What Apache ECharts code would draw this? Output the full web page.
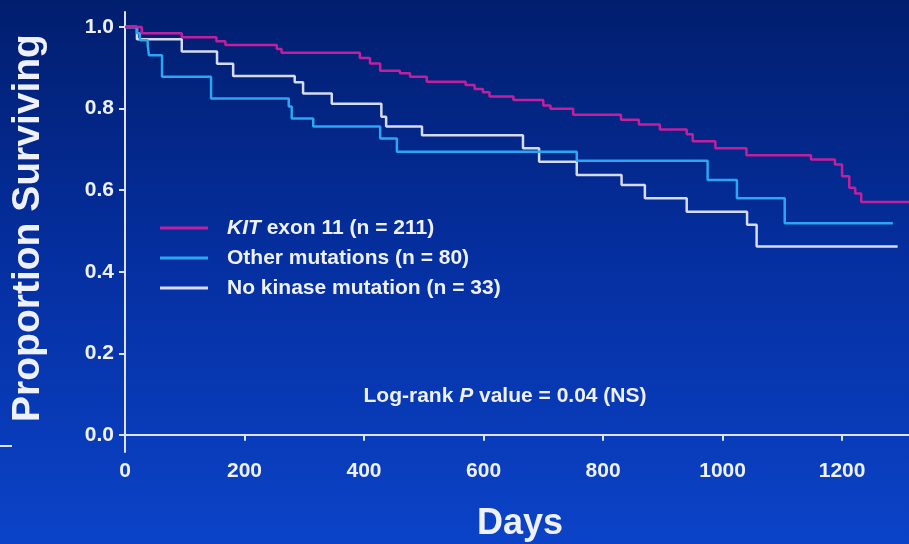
<!DOCTYPE html>
<html>
<head>
<meta charset="utf-8">
<script src="https://cdn.jsdelivr.net/npm/echarts@6/dist/echarts.min.js"></script>
<style>
  html, body { margin: 0; padding: 0; }
  #chart { width: 909px; height: 544px; }
</style>
</head>
<body>
<div id="chart"></div>
<script>
// ---- Data ----
const seriesNames = ['KIT exon 11 (n = 211)', 'Other mutations (n = 80)', 'No kinase mutation (n = 33)'];

const kitDays = [0, 28, 95, 153, 168, 254, 262, 393, 410, 427, 460, 477, 505, 570, 585, 599, 610, 650, 700, 712, 750, 830, 860, 895, 940, 950, 988, 1040, 1148, 1188, 1200, 1212, 1222, 1232, 1312];
const kitSurv = [1.0, 0.985, 0.975, 0.965, 0.956, 0.946, 0.937, 0.924, 0.911, 0.893, 0.887, 0.878, 0.866, 0.858, 0.848, 0.840, 0.830, 0.821, 0.808, 0.800, 0.785, 0.773, 0.761, 0.749, 0.737, 0.720, 0.703, 0.686, 0.675, 0.663, 0.634, 0.606, 0.592, 0.571, 0.571];

const otherDays = [0, 20, 25, 38, 40, 62, 144, 274, 279, 315, 427, 455, 756, 975, 1024, 1104, 1285];
const otherSurv = [1.0, 0.985, 0.968, 0.956, 0.931, 0.878, 0.825, 0.805, 0.776, 0.756, 0.727, 0.694, 0.672, 0.625, 0.580, 0.519, 0.519];

const noneDays = [0, 20, 95, 154, 181, 284, 298, 346, 429, 437, 497, 666, 693, 756, 831, 870, 940, 1041, 1057, 1293];
const noneSurv = [1.0, 0.97, 0.94, 0.91, 0.88, 0.865, 0.837, 0.812, 0.78, 0.756, 0.735, 0.703, 0.670, 0.637, 0.613, 0.580, 0.547, 0.515, 0.462, 0.462];

const xTicks = [0, 200, 400, 600, 800, 1000, 1200];
const yTicks = [0, 0.2, 0.4, 0.6, 0.8, 1.0];

// ---- Chart ----
const zip = (a, b) => a.map((d, i) => [d, b[i]]);
const chart = echarts.init(document.getElementById('chart'), null, { renderer: 'canvas' });

const axisColor = '#dde3f6';
const textColor = '#eef1fb';
const fontFam = '"Liberation Sans", Arial, Helvetica, sans-serif';
const fs = 21;

chart.setOption({
  animation: false,
  backgroundColor: new echarts.graphic.LinearGradient(0, 0, 0, 1, [
    { offset: 0, color: '#011e6e' },
    { offset: 0.5, color: '#0530a2' },
    { offset: 1, color: '#0b43c8' }
  ]),
  grid: { left: 125, right: 0, top: 12, bottom: 92, containLabel: false },
  xAxis: {
    type: 'value', min: 0, max: 1312,
    axisLine: { lineStyle: { color: axisColor, width: 2 } },
    axisTick: { show: true, length: 6, lineStyle: { color: axisColor, width: 2 }, customValues: xTicks },
    axisLabel: { color: textColor, fontSize: fs, fontWeight: 'bold', fontFamily: fontFam, margin: 9,
                 customValues: xTicks, formatter: v => String(v) },
    splitLine: { show: false }
  },
  yAxis: {
    type: 'value', min: -0.042, max: 1.037,
    axisLine: { show: true, lineStyle: { color: axisColor, width: 2 } },
    axisTick: { show: true, length: 6, lineStyle: { color: axisColor, width: 2 }, customValues: yTicks },
    axisLabel: { color: textColor, fontSize: fs, fontWeight: 'bold', fontFamily: fontFam, margin: 11,
                 customValues: yTicks, formatter: v => v.toFixed(1) },
    splitLine: { show: false }
  },
  legend: {
    orient: 'vertical', left: 155, top: 212, itemWidth: 48, itemHeight: 3, itemGap: 8,
    icon: 'rect',
    data: seriesNames,
    formatter: name => name.startsWith('KIT') ? '{it|KIT}' + name.slice(3) : name,
    textStyle: {
      color: textColor, fontSize: fs, fontWeight: 'bold', fontFamily: fontFam, lineHeight: 22,
      padding: [0, 0, 0, 14],
      rich: { it: { fontStyle: 'italic', fontWeight: 'bold', fontSize: fs, fontFamily: fontFam, color: textColor } }
    }
  },
  graphic: [
    { type: 'text', x: 28, y: 228, rotation: Math.PI / 2,
      style: { text: 'Proportion Surviving', fill: textColor, font: 'bold 39px ' + fontFam, align: 'center', verticalAlign: 'middle' } },
    { type: 'text', x: 520, y: 524,
      style: { text: 'Days', fill: textColor, font: 'bold 36px ' + fontFam, align: 'center', verticalAlign: 'middle' } },
    { type: 'text', x: 505, y: 396,
      style: { text: 'Log-rank {it|P} value = 0.04 (NS)', fill: textColor, font: 'bold ' + fs + 'px ' + fontFam,
               align: 'center', verticalAlign: 'middle',
               rich: { it: { fontStyle: 'italic', fontWeight: 'bold', fontSize: fs, fontFamily: fontFam, fill: textColor } } } },
    { type: 'line', shape: { x1: 0, y1: 446, x2: 12, y2: 446 }, style: { stroke: axisColor, lineWidth: 2 } }
  ],
  series: [
    { name: seriesNames[2], type: 'line', step: 'end', showSymbol: false, data: zip(noneDays, noneSurv),
      lineStyle: { color: '#d6dbf4', width: 2.5 }, itemStyle: { color: '#d6dbf4' } },
    { name: seriesNames[1], type: 'line', step: 'end', showSymbol: false, data: zip(otherDays, otherSurv),
      lineStyle: { color: '#2aa6f2', width: 2.5 }, itemStyle: { color: '#2aa6f2' } },
    { name: seriesNames[0], type: 'line', step: 'end', showSymbol: false, data: zip(kitDays, kitSurv),
      lineStyle: { color: '#c21f9e', width: 2.5 }, itemStyle: { color: '#c21f9e' } }
  ]
});
</script>
</body>
</html>
